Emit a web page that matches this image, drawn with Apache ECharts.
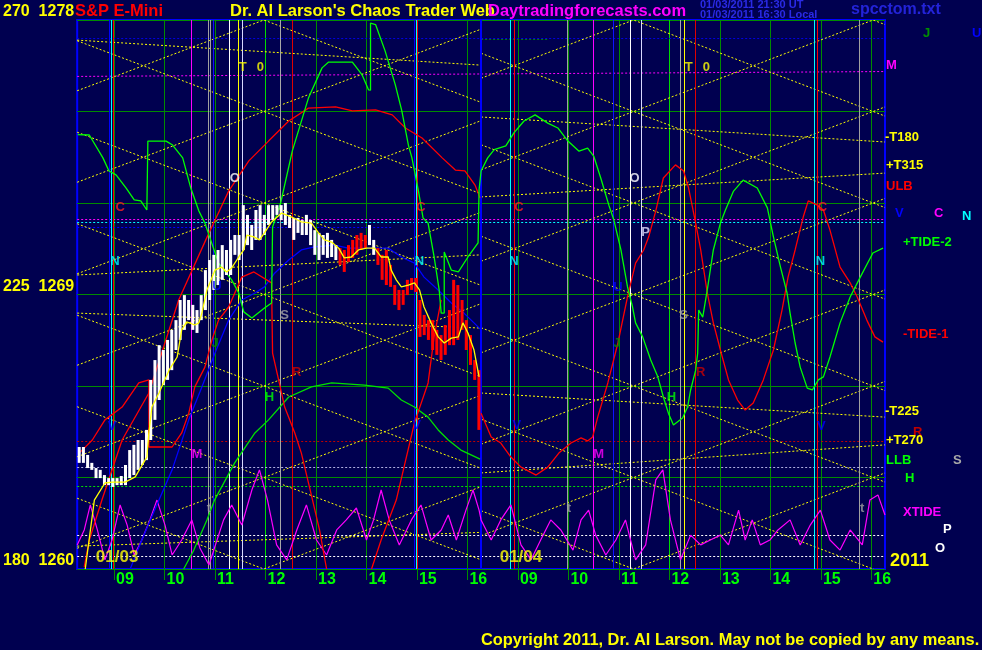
<!DOCTYPE html>
<html><head><meta charset="utf-8">
<script src="https://cdn.jsdelivr.net/npm/echarts@6/dist/echarts.min.js"></script>
<style>html,body{margin:0;padding:0;background:#000050;}#c{width:982px;height:650px;}</style>
</head><body><div id="c"></div>
<script>
// ---------------- DATA ----------------
// x axis = clock hour; session of 01/04 is drawn as hour + 8
const hourTicks = [9,10,11,12,13,14,15,16,17,18,19,20,21,22,23,24];
const priceTicks = [1260, 1269, 1278];
const degreeTicks = [180, 225, 270];
const xMin = 8.27, xMax = 24.27;
const dayLabels = [['01/03', 9.06, 1260.39], ['01/04', 17.06, 1260.39]];

// 5-minute price bars of 01/03
const firstBarTime = 8.31;
const barMinutes = 5;
const barHigh = [1264.00,1264.00,1263.74,1263.48,1263.31,1263.25,1263.08,1262.98,1262.98,1262.98,
1263.05,1263.41,1263.90,1264.07,1264.23,1264.23,1264.56,1266.20,1266.85,1267.34,
1267.18,1267.51,1267.84,1268.16,1268.82,1268.98,1268.82,1268.66,1268.49,1268.98,
1269.80,1270.13,1270.30,1270.46,1270.62,1270.46,1270.79,1270.95,1270.95,1271.93,
1271.61,1271.28,1271.77,1271.93,1271.61,1271.93,1271.93,1271.93,1271.93,1272.00,
1271.61,1271.51,1271.51,1271.44,1271.61,1271.44,1271.11,1271.02,1270.95,1271.02,
1270.79,1270.62,1270.52,1270.46,1270.62,1270.79,1270.95,1271.02,1270.95,1271.28,
1270.79,1270.52,1270.30,1270.46,1269.97,1269.31,1269.15,1269.15,1269.48,1269.54,
1269.54,1268.82,1268.33,1268.16,1268.16,1267.84,1267.67,1268.00,1268.49,1269.48,
1269.31,1268.82,1268.16,1267.67,1266.85,1266.52];
const barLow = [1263.48,1263.48,1263.31,1263.25,1262.98,1262.98,1262.75,1262.75,1262.69,1262.75,
1262.75,1262.75,1262.98,1263.08,1263.25,1263.41,1263.57,1264.23,1264.89,1265.54,
1266.03,1266.20,1266.52,1267.18,1267.51,1267.84,1268.16,1267.84,1267.74,1268.16,
1268.49,1268.82,1269.15,1269.31,1269.48,1269.64,1269.64,1270.30,1270.13,1270.46,
1270.62,1270.46,1270.79,1270.79,1270.95,1271.28,1271.44,1271.61,1271.44,1271.28,
1271.18,1270.79,1271.02,1270.95,1270.95,1270.62,1270.30,1270.13,1270.30,1270.20,
1270.23,1270.13,1269.97,1269.74,1270.07,1270.20,1270.30,1270.46,1270.52,1270.62,
1270.30,1269.97,1269.48,1269.31,1269.25,1268.66,1268.49,1268.66,1268.98,1269.15,
1269.08,1267.61,1267.67,1267.51,1267.18,1267.02,1266.85,1267.02,1267.34,1267.34,
1267.51,1267.84,1267.18,1266.69,1266.20,1264.56];
// 1 = bar above its average, 0 = below
const barAbove = '1111111111'+'1111111111'+'1111111111'+'1111111111'+'1111111111'+'1111111111'+'11'
  +'0000000'+'11'+'0000000000'+'0000000000'+'00000';

// moving average of price
const avgLine = [[8.43,1260.0],[8.61,1262.26],[8.82,1262.82],[8.96,1262.85],[9.22,1262.85],[9.42,1263.02],
[9.65,1263.67],[9.69,1264.46],[9.75,1265.31],[9.89,1265.77],[10.09,1266.52],[10.25,1266.95],[10.34,1267.84],
[10.44,1268.10],[10.60,1268.00],[10.68,1268.07],[10.74,1268.39],[10.84,1269.15],[11.0,1269.80],[11.13,1269.90],
[11.23,1269.74],[11.33,1269.87],[11.47,1270.23],[11.57,1270.46],[11.63,1270.95],[11.77,1270.89],[11.88,1270.79],
[11.98,1271.02],[12.12,1271.38],[12.32,1271.67],[12.52,1271.54],[12.71,1271.38],[12.91,1271.34],[13.05,1271.02],
[13.17,1270.79],[13.31,1270.72],[13.45,1270.52],[13.56,1270.20],[13.70,1270.23],[13.84,1270.46],[14.0,1270.52],
[14.16,1270.52],[14.29,1270.23],[14.43,1270.23],[14.49,1269.80],[14.59,1269.48],[14.69,1269.25],[14.83,1269.31],
[14.95,1269.38],[15.05,1269.15],[15.14,1268.59],[15.28,1268.07],[15.42,1267.61],[15.54,1267.41],[15.68,1267.57],
[15.82,1267.61],[15.91,1268.07],[16.01,1267.74],[16.13,1267.18],[16.23,1266.30]];

// TIDE-2 (green)
const tide2 = [[8.28,1274.24],[8.51,1274.23],[8.78,1273.48],[8.90,1273.05],[9.04,1272.92],[9.24,1272.49],[9.40,1272.10],
[9.53,1272.07],[9.65,1271.77],[9.67,1274.03],[10.03,1274.03],[10.16,1273.90],[10.36,1273.48],[10.52,1272.49],
[10.68,1271.74],[10.80,1271.34],[11.07,1270.03],[11.33,1269.48],[11.47,1269.05],[11.57,1268.43],[11.73,1268.23],
[11.98,1268.56],[12.12,1268.72],[12.14,1271.21],[12.30,1272.0],[12.53,1273.70],[12.85,1275.44],[13.12,1276.43],
[13.25,1276.62],[13.72,1276.62],[13.91,1276.21],[14.04,1275.71],[14.08,1275.70],[14.08,1277.90],[14.18,1277.85],
[14.37,1276.98],[14.57,1275.88],[14.70,1275.02],[14.83,1273.90],[14.90,1273.48],[15.03,1272.39],[15.12,1271.51],
[15.22,1271.34],[15.34,1270.23],[15.44,1269.15],[15.48,1268.39],[15.54,1268.39],[15.54,1270.39],[15.68,1269.80],
[15.82,1269.74],[16.01,1270.23],[16.21,1270.69],[16.23,1272.43],[16.27,1273.05],
[16.40,1273.48],[16.53,1273.75],[16.76,1273.87],[16.92,1274.30],[17.12,1274.69],[17.34,1274.89],[17.59,1274.62],
[17.79,1274.46],[17.99,1274.03],[18.21,1273.70],[18.38,1273.80],[18.50,1273.54],[18.64,1272.82],[18.80,1271.93],
[18.90,1271.44],[19.04,1270.46],[19.17,1269.25],[19.27,1268.59],[19.33,1268.07],[19.47,1267.61],[19.63,1266.85],
[19.77,1266.30],[19.88,1265.64],[19.98,1265.11],[20.08,1264.72],[20.26,1264.95],[20.36,1265.31],[20.42,1265.87],
[20.52,1266.52],[20.56,1267.08],[20.58,1268.49],[20.66,1268.26],[20.75,1269.15],[20.87,1270.46],[21.01,1271.34],
[21.11,1271.77],[21.27,1272.39],[21.46,1272.75],[21.74,1272.49],[21.94,1271.84],[22.06,1270.89],[22.20,1269.90],
[22.33,1269.05],[22.39,1268.39],[22.49,1267.41],[22.59,1266.62],[22.73,1265.93],[22.83,1265.87],[22.95,1266.20],
[23.05,1266.30],[23.18,1266.95],[23.38,1268.07],[23.58,1268.92],[23.78,1269.57],[24.03,1270.36],[24.23,1270.52]];

// TIDE-1 (red)
const tide1Day1 = [[8.41,1260.07],[8.51,1260.95],[8.76,1262.26],[9.16,1264.23],[9.69,1265.77],[10.28,1268.82],
[10.88,1271.02],[11.02,1271.51],[11.27,1272.39],[11.67,1273.38],[12.06,1274.03],[12.46,1274.69],[12.85,1275.11],
[13.39,1275.15],[13.72,1275.02],[14.18,1275.05],[14.51,1274.89],[14.77,1274.46],[15.10,1274.13],[15.50,1273.48],
[15.76,1273.08],[15.95,1273.05],[16.15,1272.59],[16.25,1272.16]];
const tide1Day2 = [[16.27,1265.11],[16.47,1264.33],[16.66,1264.13],[16.86,1263.67],[17.06,1263.34],[17.36,1263.08],
[17.59,1263.34],[17.81,1263.80],[18.05,1264.13],[18.25,1264.30],[18.38,1264.20],[18.48,1264.33],[18.58,1264.98],
[18.78,1266.10],[18.98,1267.41],[19.17,1268.92],[19.33,1270.03],[19.49,1270.46],[19.59,1270.89],[19.73,1271.74],
[19.88,1272.82],[20.12,1273.25],[20.28,1273.05],[20.38,1272.49],[20.52,1271.34],[20.62,1270.46],[20.75,1269.05],
[20.87,1268.07],[21.01,1267.18],[21.17,1266.20],[21.35,1265.54],[21.50,1265.21],[21.66,1265.44],[21.86,1266.20],
[22.06,1267.18],[22.23,1268.49],[22.35,1269.57],[22.49,1270.46],[22.65,1271.54],[22.75,1272.07],[22.93,1271.93],
[23.05,1271.77],[23.18,1271.11],[23.38,1269.90],[23.58,1269.38],[23.72,1268.92],[23.91,1268.16],[24.07,1267.61],
[24.23,1267.44]];
// second red cycle of 01/03
const redCycle = [[8.31,1263.80],[8.57,1264.23],[8.82,1264.89],[9.16,1265.31],[9.49,1266.10],[9.69,1266.20],
[9.69,1264.00],[10.15,1264.00],[10.34,1264.46],[10.48,1265.11],[10.60,1265.97],[10.80,1266.62],[10.94,1267.51],
[11.07,1268.16],[11.27,1268.59],[11.53,1269.57],[11.77,1269.74],[12.12,1269.38],[12.14,1267.08],[12.26,1266.20],
[12.38,1265.31],[12.58,1264.46],[12.71,1263.80],[12.87,1262.69],[13.07,1261.28],[13.21,1260.0]];
const redCycle2 = [[14.10,1260.0],[14.29,1260.95],[14.59,1262.26],[14.95,1264.79],[15.22,1266.10],[15.34,1267.61],[15.48,1268.82]];
// blue cycle of 01/03
const blueCycle = [[9.32,1260.0],[9.55,1260.95],[9.89,1262.26],[10.15,1263.25],[10.48,1264.89],[10.74,1265.97],
[11.0,1267.08],[11.27,1268.16],[11.53,1268.82],[11.79,1269.05],[11.98,1269.25],[12.18,1269.70],[12.46,1270.13],
[12.71,1270.46],[12.97,1270.56],[13.37,1270.62],[13.64,1270.52],[14.16,1270.52],[14.43,1270.52],[14.69,1270.23],
[14.95,1270.03],[15.14,1269.57],[15.42,1269.15],[15.68,1268.72],[15.93,1268.39],[16.13,1268.07],[16.27,1267.84]];
// green H cycle of 01/03
const hCycle = [[10.38,1260.0],[10.58,1260.62],[10.84,1261.61],[10.99,1262.26],[11.39,1263.48],[11.79,1264.46],
[12.06,1264.89],[12.46,1265.64],[12.91,1265.97],[13.31,1266.10],[13.96,1266.03],[14.43,1265.93],[14.69,1265.54],
[14.95,1265.31],[15.22,1264.98],[15.42,1264.56],[15.62,1264.23],[15.87,1263.90],[16.25,1263.6]];
// XTIDE (magenta)
const xtide = [[8.27,1260.79],[8.41,1261.28],[8.53,1262.10],[8.67,1261.28],[8.82,1260.30],[8.96,1260.95],[9.12,1262.10],
[9.26,1261.44],[9.40,1260.46],[9.55,1260.95],[9.71,1261.61],[9.85,1262.26],[10.01,1261.44],[10.15,1260.46],[10.34,1260.95],
[10.54,1261.61],[10.70,1260.69],[10.88,1260.13],[11.04,1260.95],[11.17,1261.61],[11.33,1262.10],[11.53,1261.44],
[11.73,1262.59],[11.88,1263.25],[12.04,1262.26],[12.22,1260.79],[12.42,1260.30],[12.62,1261.28],[12.81,1262.10],
[13.01,1260.95],[13.21,1260.46],[13.41,1261.28],[13.60,1261.61],[13.80,1262.0],[14.0,1260.95],[14.14,1261.61],
[14.29,1262.59],[14.45,1261.61],[14.65,1260.79],[14.89,1261.61],[15.08,1262.10],[15.28,1260.95],[15.48,1261.28],
[15.62,1261.77],[15.78,1260.95],[15.97,1261.93],[16.11,1262.59],[16.23,1261.93],
[16.27,1261.61],[16.47,1260.95],[16.66,1261.61],[16.86,1262.10],[17.06,1260.79],[17.26,1260.30],[17.45,1260.95],
[17.65,1261.61],[17.85,1261.28],[18.09,1260.62],[18.25,1261.61],[18.40,1261.93],[18.54,1261.11],[18.74,1260.46],
[18.94,1260.95],[19.13,1261.61],[19.33,1260.30],[19.53,1260.79],[19.73,1262.92],[19.87,1263.25],[20.02,1261.61],
[20.22,1260.30],[20.42,1261.11],[20.62,1260.79],[20.81,1260.95],[21.01,1261.11],[21.17,1260.79],[21.37,1261.93],
[21.50,1260.95],[21.64,1261.61],[21.80,1260.79],[21.99,1260.95],[22.15,1261.28],[22.39,1261.61],[22.59,1260.79],
[22.79,1261.44],[22.99,1261.93],[23.18,1260.95],[23.38,1260.62],[23.58,1261.28],[23.82,1260.79],[23.97,1262.26],
[24.13,1262.43],[24.27,1261.77]];

// vertical event lines: [hour, kind]
const eventLines = [[8.91,'V'],[8.94,'N'],[8.99,'C'],[10.53,'M'],[10.86,'t'],[10.91,'t'],[10.97,'U'],[11.28,'O'],
[11.46,'T'],[11.53,'P'],[12.29,'S'],[12.53,'R'],[14.95,'V'],[14.98,'N'],[15.01,'C'],[16.27,'D'],
[16.85,'N'],[16.93,'C'],[17.97,'t'],[18.49,'M'],[18.88,'U'],[19.22,'O'],[19.44,'P'],[20.21,'S'],[20.29,'T'],
[20.52,'R'],[22.87,'N'],[22.93,'C'],[23.76,'t']];
// horizontal price levels: [hourFrom, priceFrom, hourTo, priceTo, kind]
const levelLines = [[8.27,1277.41,24.27,1277.41,'U'],[16.27,1277.38,17.6,1277.38,'J'],[8.27,1276.15,24.27,1276.31,'M'],
[8.27,1271.48,24.27,1271.48,'C'],[8.27,1271.38,24.27,1271.38,'N'],[8.27,1271.21,14.5,1271.21,'V'],
[8.27,1264.18,24.27,1264.18,'R'],[8.27,1263.34,24.27,1263.34,'S'],[8.27,1262.7,24.27,1262.7,'H'],
[8.27,1261.11,24.27,1261.11,'P'],[8.27,1260.43,24.27,1260.43,'O']];
// time lines (yellow, nearly flat)
const timeLines = [[8.27,1277.34,16.27,1276.52],[8.27,1269.64,16.27,1270.30],[8.27,1268.39,16.27,1267.90],
[8.27,1260.75,16.27,1261.20],
[16.27,1274.82,24.27,1274.00],[16.27,1272.20,24.27,1272.98],[16.27,1265.77,24.27,1264.98],[16.27,1263.15,24.27,1264.07]];
// angle lattice (yellow dotted)
const angleLines = [
[8.27,1280.32,16.27,1275.30],[8.27,1277.32,16.27,1272.30],[8.27,1274.32,16.27,1269.30],[8.27,1271.32,16.27,1266.30],
[8.27,1268.32,16.27,1263.30],[8.27,1265.32,16.27,1260.30],[8.27,1262.32,16.27,1257.30],
[8.27,1275.68,16.27,1280.70],[8.27,1272.68,16.27,1277.70],[8.27,1269.68,16.27,1274.70],[8.27,1266.68,16.27,1271.70],
[8.27,1263.68,16.27,1268.70],[8.27,1260.68,16.27,1265.70],[8.27,1257.68,16.27,1262.70],
[16.27,1282.91,24.27,1277.85],[16.27,1279.91,24.27,1274.85],[16.27,1276.91,24.27,1271.85],[16.27,1273.91,24.27,1268.85],
[16.27,1270.91,24.27,1265.85],[16.27,1267.91,24.27,1262.85],[16.27,1264.91,24.27,1259.85],[16.27,1261.91,24.27,1256.85],
[16.27,1276.09,24.27,1281.15],[16.27,1273.09,24.27,1278.15],[16.27,1270.09,24.27,1275.15],[16.27,1267.09,24.27,1272.15],
[16.27,1264.09,24.27,1269.15],[16.27,1261.09,24.27,1266.15],[16.27,1258.09,24.27,1263.15]];
// letters inside the chart: [text, hour, price]
const marks = [['C',9.12,1271.87],['C',15.08,1271.87],['C',17.02,1271.87],['C',23.03,1271.87],
['N',9.02,1270.07],['N',15.05,1270.07],['N',16.92,1270.07],['N',22.99,1270.07],
['O',11.39,1272.82],['O',19.31,1272.82],['T',11.55,1276.43],['T',20.38,1276.43],['0',11.90,1276.43],['0',20.73,1276.43],
['P',19.53,1271.02],['S',12.38,1268.30],['S',20.28,1268.30],['H',12.08,1265.61],['H',20.04,1265.61],
['R',12.62,1266.46],['R',20.62,1266.46],['M',10.64,1263.77],['M',18.60,1263.77],['J',11.0,1267.38],['J',18.96,1267.38],
['U',11.04,1269.25],['U',18.98,1269.22],['V',8.96,1264.66],['V',14.99,1264.72],['V',16.98,1264.72],['V',23.01,1264.69],
['t',10.88,1262.0],['t',18.01,1262.0],['t',23.82,1262.0]];
// legend labels at right: [text, kind]
const sideLabels = [['J','J'],['U','U'],['M','M'],['-T180','T'],['+T315','T'],['ULB','ULB'],['V','V'],['C','Cm'],['N','N'],
['+TIDE-2','G'],['-TIDE-1','Rd'],['-T225','T'],['R','R'],['+T270','T'],['LLB','G'],['S','S'],['H','G'],['XTIDE','M'],
['P','P'],['O','O']];

// ---------------- STYLES ----------------
const F = '"Liberation Sans", Arial, Helvetica, sans-serif';
const vColor = {V:'#0000ff',N:'#00ffff',C:'#ff0000',M:'#ff00ff',t:'#a0a0a0',U:'#1010ff',O:'#ffffff',T:'#ffff00',
  P:'#d8d8ff',S:'#a8a8a8',R:'#e00000',D:'#0000ff'};
const hColor = {U:'#0000e0',J:'#008000',M:'#ff00ff',C:'#ff00ff',N:'#00ffff',V:'#0000ff',R:'#c00000',S:'#b0b0e0',
  H:'#00e000',P:'#ffffff',O:'#ffffff'};
const mColor = {C:'#ff2020',N:'#00ffff',O:'#ffffff',T:'#ffff00','0':'#ffff00',P:'#e0e0ff',S:'#a8a8a8',H:'#00ff00',
  R:'#cc0000',M:'#ff00ff',J:'#009000',U:'#0000ff',V:'#0000ff',t:'#a0a0a0'};
const sColor = {J:'#009000',U:'#0000ff',M:'#ff00ff',T:'#ffff00',ULB:'#ff0000',V:'#0000ff',Cm:'#ff00ff',N:'#00ffff',
  G:'#00ff00',Rd:'#ff0000',R:'#c00000',S:'#a8a8a8',P:'#ffffff',O:'#ffffff'};
const sPos = [[923,33],[972,33],[886,65],[885,137],[886,165],[886,186],[895,213],[934,213],[962,216],[903,242],
  [903,334],[885,411],[913,432],[886,440],[886,460],[953,460],[905,478],[903,512],[943,529],[935,548]];

function segs(list, styleFn, z, name) {
  return {type:'lines', name:name, coordinateSystem:'cartesian2d', polyline:false, clip:true, silent:true, z:z,
    animation:false, symbol:['none','none'],
    data:list.map(s => ({coords:[[s[0],s[1]],[s[2],s[3]]], lineStyle:styleFn(s)}))};
}
function curve(data, color, z, w) {
  return {type:'line', data:data, showSymbol:false, symbol:'none', clip:true, silent:true, z:z, animation:false,
    lineStyle:{color:color, width:w||1.3}};
}

const hourLineData = hourTicks.map(h => [h, 1260, h, 1278, h]);
const vData = eventLines.map(e => [e[0], 1260, e[0], 1278, e[1]]);
const bars = barHigh.map((hi, i) => [firstBarTime + i * barMinutes / 60, hi, barLow[i], barAbove[i] === '1' ? 1 : 0]);

const graphics = [];
function txt(t, x, y, fill, size, align) {
  graphics.push({type:'text', x:x, y:y, silent:true, z:100,
    style:{text:t, fill:fill, font:'bold ' + size + 'px ' + F, textAlign:align||'left', textVerticalAlign:'middle'}});
}
txt('S&P E-Mini', 75, 11, '#ff0000', 16.5);
txt("Dr. Al Larson's Chaos Trader Web", 230, 11, '#ffff00', 16.5);
txt('Daytradingforecasts.com', 488, 11, '#ff00ff', 16.5);
txt('01/03/2011 21:30 UT', 700, 5, '#2a2ae6', 11);
txt('01/03/2011 16:30 Local', 700, 15, '#2a2ae6', 11);
txt('spcctom.txt', 851, 10, '#2323d8', 16);
txt('Copyright 2011, Dr. Al Larson. May not be copied by any means.', 481, 640, '#ffff00', 16.4);
txt('2011', 890, 561, '#ffff00', 18);
sideLabels.forEach((s, i) => txt(s[0], sPos[i][0], sPos[i][1], sColor[s[1]], 13));

const option = {
  backgroundColor:'#000050',
  animation:false,
  grid:{left:75, right:97, top:20, bottom:81, show:true, borderColor:'#0000ff', borderWidth:2, backgroundColor:'transparent'},
  xAxis:{type:'value', min:xMin, max:xMax,
    axisLine:{show:false}, splitLine:{show:false},
    axisTick:{show:true, customValues:hourTicks, length:11, lineStyle:{color:'#008c00', width:1}},
    axisLabel:{customValues:hourTicks, color:'#00ff00', fontFamily:F, fontWeight:'bold', fontSize:16, margin:3,
      align:'left', padding:[0,0,0,2],
      formatter: v => { const h = v > 16.5 ? v - 8 : v; return (h < 10 ? '0' : '') + h; }}},
  yAxis:{type:'value', min:1260, max:1278, interval:3,
    axisLine:{show:false}, axisTick:{show:false},
    splitLine:{show:true, lineStyle:{color:'#008c00', width:1}},
    axisLabel:{color:'#ffff00', fontFamily:F, fontWeight:'bold', fontSize:16, margin:3, verticalAlign:'bottom',
      formatter: v => { const k = priceTicks.indexOf(v); return k < 0 ? '' : degreeTicks[k] + '  ' + v; }}},
  graphic: graphics,
  series:[
    segs(hourLineData, s => ({color: (s[4] === 12 || s[4] === 20) ? '#00dd00' : '#008c00', width:1, type:'solid', opacity:1}), 1, 'hours'),
    segs(levelLines, s => ({color:hColor[s[4]], width:1, type:[2,2], opacity:1}), 2, 'levels'),
    segs(timeLines, s => ({color:'#ffff00', width:1, type:[2,2], opacity:1}), 2, 'time'),
    segs(angleLines, s => ({color:'#ffff00', width:1, type:[2,2], opacity:1}), 2, 'angles'),
    segs(vData, s => ({color:vColor[s[4]], width:s[4] === 'D' ? 2 : 1, type:'solid', opacity:1}), 3, 'events'),
    curve(xtide, '#ff00ff', 4, 1.2),
    curve(blueCycle, '#0000ff', 4),
    curve(hCycle, '#00e000', 4),
    curve(redCycle, '#ff0000', 4),
    curve(redCycle2, '#ff0000', 4),
    curve(tide1Day1, '#ff0000', 4),
    curve(tide1Day2, '#ff0000', 4),
    curve(tide2, '#00ff00', 4),
    {type:'custom', z:6, silent:true, animation:false, clip:true, data:bars,
      renderItem:(params, api) => {
        const x = api.value(0);
        const a = api.coord([x, api.value(1)]), b = api.coord([x, api.value(2)]);
        return {type:'rect', shape:{x:a[0]-1.5, y:a[1], width:3, height:Math.max(2, b[1]-a[1])},
          style:{fill: api.value(3) ? '#ffffff' : '#ff0000'}};
      }},
    curve(avgLine, '#ffff00', 7, 1.3),
    {type:'scatter', z:9, silent:true, animation:false, symbolSize:0,
      data:marks.map(m => ({value:[m[1], m[2]], name:m[0],
        label:{show:true, position:'inside', formatter:m[0], color:mColor[m[0]], fontFamily:F, fontWeight:'bold', fontSize:13}}))},
    {type:'scatter', z:9, silent:true, animation:false, symbolSize:0,
      data:dayLabels.map(d => ({value:[d[1], d[2]], name:d[0],
        label:{show:true, position:'inside', formatter:d[0], color:'#ffff00', fontFamily:F, fontWeight:'bold', fontSize:17}}))}
  ]
};
const chart = echarts.init(document.getElementById('c'));
chart.setOption(option);
</script></body></html>
